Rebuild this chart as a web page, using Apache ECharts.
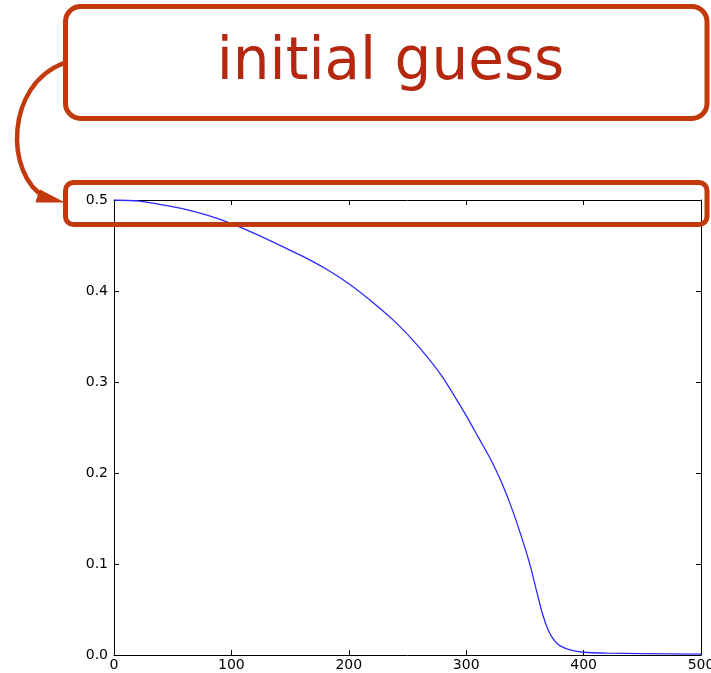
<!DOCTYPE html>
<html>
<head>
<meta charset="utf-8">
<script src="https://cdn.jsdelivr.net/npm/echarts@6/dist/echarts.min.js"></script>
<style>
html,body{margin:0;padding:0;background:#fff;}
#c{width:711px;height:673px;}
</style>
</head>
<body>
<div id="c"></div>
<script>
// Data
const xValues = [0, 20, 40, 60, 80, 100, 120, 140, 160, 180, 200, 220, 240, 260, 280, 300, 310, 320, 330, 340, 350, 355, 360, 365, 370, 375, 380, 390, 400, 420, 450, 500];
const yValues = [0.500, 0.499, 0.495, 0.490, 0.483, 0.474, 0.463, 0.451, 0.4386, 0.4247, 0.408, 0.388, 0.3655, 0.338, 0.305, 0.263, 0.240, 0.217, 0.190, 0.157, 0.118, 0.096, 0.070, 0.045, 0.027, 0.016, 0.010, 0.005, 0.003, 0.002, 0.0015, 0.001];
const xTicks = [0, 100, 200, 300, 400, 500];
const yTicks = [0.0, 0.1, 0.2, 0.3, 0.4, 0.5];
const annotationText = 'initial guess';

const chart = echarts.init(document.getElementById('c'), null, {renderer: 'canvas'});
const font = 'DejaVu Sans';
const stroke = '#c23a0c';
const textRed = '#b5280f';

const axisCommon = {
  type: 'value',
  axisLine: {show: true, onZero: false, lineStyle: {color: '#000', width: 1}},
  axisTick: {show: true, inside: true, length: 5, lineStyle: {color: '#000', width: 1}},
  splitLine: {show: false}
};

chart.setOption({
  animation: false,
  backgroundColor: '#fff',
  grid: {left: 114, right: 10, top: 200, bottom: 18, show: false, containLabel: false, outerBoundsMode: 'none'},
  xAxis: [
    Object.assign({}, axisCommon, {
      min: xTicks[0], max: xTicks[xTicks.length - 1], interval: 100, position: 'bottom',
      axisLabel: {show: true, color: '#000', fontFamily: font, fontSize: 14, margin: 3,
        formatter: v => String(v)}
    }),
    Object.assign({}, axisCommon, {
      min: xTicks[0], max: xTicks[xTicks.length - 1], interval: 100, position: 'top',
      axisLabel: {show: false}
    })
  ],
  yAxis: [
    Object.assign({}, axisCommon, {
      min: yTicks[0], max: yTicks[yTicks.length - 1], interval: 0.1, position: 'left',
      axisLabel: {show: true, color: '#000', fontFamily: font, fontSize: 14, margin: 6,
        formatter: v => v.toFixed(1)}
    }),
    Object.assign({}, axisCommon, {
      min: yTicks[0], max: yTicks[yTicks.length - 1], interval: 0.1, position: 'right',
      axisLabel: {show: false}
    })
  ],
  series: [{
    type: 'line',
    xAxisIndex: 0, yAxisIndex: 0,
    data: xValues.map((x, i) => [x, yValues[i]]),
    showSymbol: false,
    smooth: 0.2,
    lineStyle: {color: '#2a2aff', width: 1.3},
    z: 2
  }],
  graphic: [
    {
      type: 'rect', z: 100,
      shape: {x: 65.5, y: 6.5, width: 641.5, height: 112, r: 15},
      style: {fill: 'none', stroke: stroke, lineWidth: 5}
    },
    {
      type: 'text', z: 101,
      style: {x: 390.5, y: 64, text: annotationText, fill: textRed,
        font: '58px "DejaVu Sans"', textAlign: 'center', textVerticalAlign: 'middle'}
    },
    {
      type: 'rect', z: 100,
      shape: {x: 65.5, y: 182.5, width: 641.5, height: 42, r: 8},
      style: {fill: 'none', stroke: stroke, lineWidth: 5}
    },
    {
      type: 'bezierCurve', z: 100,
      shape: {x1: 64, y1: 63, cpx1: 5, cpy1: 85, cpx2: 5, cpy2: 175, x2: 45, y2: 197},
      style: {fill: 'none', stroke: stroke, lineWidth: 4.5}
    },
    {
      type: 'polygon', z: 100,
      shape: {points: [[40, 190], [36, 202], [63, 202]]},
      style: {fill: stroke, stroke: stroke, lineWidth: 1}
    }
  ]
});
</script>
</body>
</html>
